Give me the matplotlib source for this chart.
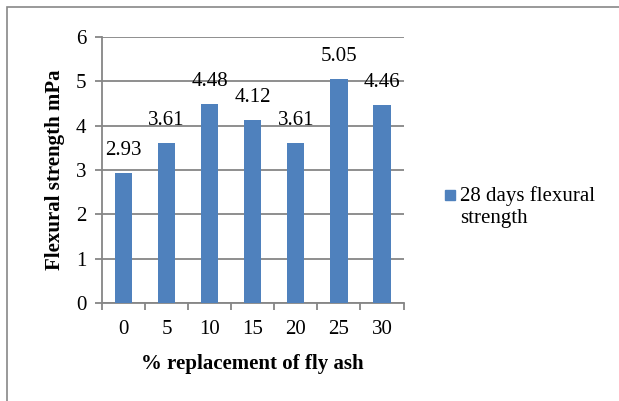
import numpy as np
import matplotlib.pyplot as plt
from matplotlib.patches import Rectangle

# Flexural strength at 28 days vs fly ash replacement
replacement = ['0', '5', '10', '15', '20', '25', '30']
strength = [2.93, 3.61, 4.48, 4.12, 3.61, 5.05, 4.46]
series_name = '28 days flexural\nstrength'

plt.rcParams['font.family'] = ['Liberation Serif', 'DejaVu Serif']

bar_colr = '#4F81BD'
grid_colr = '#868686'
fs = 15

fig = plt.figure(figsize=(6.19, 4.01), dpi=100)
ax = fig.add_axes([0.1646, 0.2436, 0.4873, 0.665])

x = np.arange(len(replacement))
ax.bar(x, strength, width=0.4, color=bar_colr, zorder=3)

for xi, v in zip(x, strength):
    ax.annotate('%.2f' % v, (xi, v), xytext=(0, 16), textcoords='offset points',
                ha='center', va='center', fontsize=fs, zorder=4)

ax.set_xlim(-0.5, len(replacement) - 0.5)
ax.set_ylim(0, 6)
ax.set_yticks(range(0, 7))
ax.grid(axis='y', color=grid_colr, linewidth=1.3, zorder=0)

# category boundaries get the tick marks, labels sit in the middle
ax.set_xticks(x)
ax.set_xticklabels(replacement)
ax.set_xticks(np.arange(-0.5, len(replacement)), minor=True)
ax.tick_params(axis='x', which='major', length=0, pad=12, labelsize=fs)
ax.tick_params(axis='x', which='minor', length=5, color=grid_colr, width=1.3)
ax.tick_params(axis='y', length=5, color=grid_colr, width=1.3, labelsize=fs, pad=6)

for side in ['top', 'right']:
    ax.spines[side].set_visible(False)
for side in ['left', 'bottom']:
    ax.spines[side].set_color(grid_colr)
    ax.spines[side].set_linewidth(1.3)

ax.set_xlabel('% replacement of fly ash', fontsize=fs, fontweight='bold', labelpad=11)
ax.set_ylabel('Flexural strength mPa', fontsize=fs, fontweight='bold', labelpad=8)

# legend drawn by hand so the square sits beside the first line
fig.patches.append(Rectangle((445 / 619, 1 - 200 / 401), 10 / 619, 10 / 401,
                             transform=fig.transFigure, color=bar_colr, figure=fig))
fig.text(460 / 619, 1 - 207 / 401, series_name, fontsize=fs, va='center',
         ha='left', linespacing=1.15)

# outer chart frame
fig.patches.append(Rectangle((7 / 619, -0.01), 1.0, 1 - 7 / 401 + 0.01,
                             transform=fig.transFigure, fill=False,
                             edgecolor='#888888', linewidth=1.2, figure=fig))

fig.savefig('out.png', dpi=100)
